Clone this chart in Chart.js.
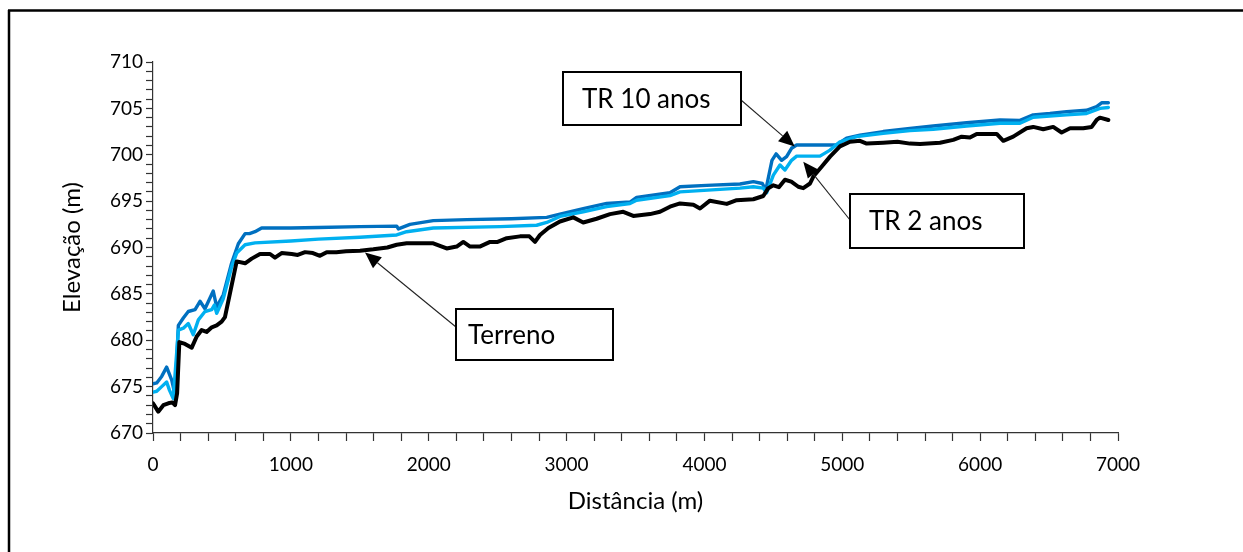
<!DOCTYPE html>
<html>
<head>
<meta charset="utf-8">
<script src="https://cdn.jsdelivr.net/npm/chart.js@4.4.0/dist/chart.umd.min.js"></script>
<style>
  html, body { margin: 0; padding: 0; background: #ffffff; }
  #wrap { width: 1243px; height: 552px; position: relative; }
  canvas { display: block; }
</style>
</head>
<body>
<div id="wrap"><canvas id="c" width="1243" height="552"></canvas></div>
<script>
// ---- Data ----
const terrenoDist = [
  0, 38, 75, 111, 140, 160, 175, 191, 232, 281,
  317, 353, 389, 426, 462, 498, 522, 559, 607, 668,
  716, 776, 849, 885, 933, 1006, 1050, 1103, 1160, 1211,
  1260, 1330, 1400, 1502, 1598, 1700, 1768, 1840, 1950, 2033,
  2130, 2203, 2251, 2300, 2370, 2445, 2500, 2566, 2662, 2730,
  2771, 2807, 2868, 2952, 3049, 3121, 3218, 3315, 3411, 3484,
  3605, 3678, 3750, 3823, 3920, 3968, 4040, 4162, 4234, 4355,
  4427, 4463, 4500, 4540, 4584, 4630, 4681, 4717, 4766, 4790,
  4850, 4911, 4983, 5056, 5128, 5177, 5297, 5400, 5491, 5564,
  5709, 5805, 5866, 5926, 5975, 6120, 6168, 6240, 6337, 6385,
  6458, 6530, 6591, 6652, 6748, 6809, 6845, 6869, 6930
];
const terrenoElev = [
  673.2, 672.3, 673.0, 673.2, 673.3, 673.0, 674.3, 679.8, 679.6, 679.2,
  680.4, 681.1, 680.9, 681.4, 681.6, 682.0, 682.5, 685.1, 688.5, 688.3,
  688.8, 689.3, 689.3, 688.9, 689.4, 689.3, 689.2, 689.5, 689.4, 689.1,
  689.5, 689.5, 689.6, 689.65, 689.8, 690.0, 690.3, 690.45, 690.45, 690.45,
  689.9, 690.1, 690.6, 690.1, 690.1, 690.6, 690.6, 691.0, 691.2, 691.2,
  690.6, 691.35, 692.1, 692.8, 693.25, 692.7, 693.1, 693.6, 693.85, 693.4,
  693.6, 693.85, 694.4, 694.75, 694.6, 694.2, 695.05, 694.7, 695.1, 695.2,
  695.55, 696.4, 696.7, 696.5, 697.3, 697.1, 696.55, 696.4, 696.9, 697.65,
  698.7, 699.8, 700.9, 701.4, 701.5, 701.2, 701.3, 701.4, 701.2, 701.15,
  701.3, 701.6, 701.95, 701.85, 702.25, 702.25, 701.5, 701.95, 702.85, 703.0,
  702.75, 703.0, 702.4, 702.85, 702.85, 703.0, 703.75, 704.0, 703.75
];

const tr10Dist = [
  0, 27, 63, 99, 136, 160, 184, 220, 256, 305,
  341, 377, 437, 462, 510, 570, 619, 668, 700, 740,
  788, 1000, 1200, 1500, 1768, 1780, 1864, 2033, 2275, 2600,
  2856, 2952, 3121, 3291, 3460, 3508, 3750, 3823, 4016, 4258,
  4355, 4420, 4445, 4490, 4520, 4560, 4596, 4632, 4669, 4814,
  4959, 5031, 5128, 5297, 5491, 5660, 5902, 6144, 6289, 6385,
  6506, 6627, 6772, 6845, 6881, 6930
];
const tr10Elev = [
  675.3, 675.4, 676.1, 677.1, 675.7, 674.1, 681.6, 682.4, 683.1, 683.3,
  684.2, 683.4, 685.3, 683.6, 684.9, 688.3, 690.4, 691.5, 691.5, 691.7,
  692.1, 692.1, 692.15, 692.25, 692.3, 692.0, 692.5, 692.9, 693.0, 693.1,
  693.25, 693.6, 694.2, 694.75, 694.9, 695.4, 695.9, 696.55, 696.7, 696.85,
  697.1, 696.9, 696.2, 699.4, 700.1, 699.4, 699.8, 700.7, 701.05, 701.05,
  701.05, 701.8, 702.1, 702.5, 702.85, 703.1, 703.45, 703.75, 703.7, 704.3,
  704.45, 704.65, 704.8, 705.2, 705.6, 705.6
];

const tr2Dist = [
  0, 27, 63, 99, 120, 147, 184, 220, 256, 292,
  329, 377, 426, 445, 462, 510, 570, 607, 668, 740,
  1000, 1200, 1500, 1768, 1840, 2033, 2517, 2783, 2856, 2952,
  3121, 3291, 3460, 3508, 3750, 3823, 4258, 4355, 4427, 4451,
  4500, 4548, 4584, 4632, 4669, 4838, 4911, 4983, 5104, 5297,
  5491, 5660, 5902, 6144, 6289, 6385, 6627, 6772, 6869, 6930
];
const tr2Elev = [
  674.4, 674.5, 675.0, 675.5, 674.6, 673.7, 681.1, 681.3, 681.8, 680.6,
  682.2, 683.1, 683.3, 683.8, 682.9, 684.5, 687.9, 689.4, 690.3, 690.5,
  690.7, 690.9, 691.1, 691.35, 691.7, 692.1, 692.25, 692.4, 692.7, 693.35,
  693.85, 694.4, 694.75, 695.1, 695.6, 696.0, 696.4, 696.55, 696.4, 695.9,
  697.8, 698.9, 698.35, 699.4, 699.85, 699.85, 700.5, 701.4, 701.95, 702.3,
  702.6, 702.75, 703.1, 703.4, 703.4, 704.05, 704.3, 704.45, 705.0, 705.1
];

const seriesNames = ['Terreno', 'TR 2 anos', 'TR 10 anos'];
const xTitle = 'Distância (m)';
const yTitle = 'Elevação (m)';
const xMin = 0, xMax = 7000, xMinorStep = 200, xMajorStep = 1000;
const yMin = 670, yMax = 710, yMinorStep = 1, yMajorStep = 5;

// Callouts: label and the data point each arrow points to
const calloutLabels = ['TR 10 anos', 'TR 2 anos', 'Terreno'];
const calloutTargetX = [4655, 4717, 1538];
const calloutTargetY = [700.9, 699.25, 689.45];

function zip(xs, ys) { return xs.map((x, i) => ({ x: x, y: ys[i] })); }

const FONT = 'Lato, "Open Sans", "Liberation Sans", sans-serif';

// Box layout (pixels) for callouts, and where each leader line leaves the box
const calloutBoxes = [
  { x: 563, y: 72, w: 178, h: 53, tx: 582, ax: 741, ay: 100 },
  { x: 850, y: 194, w: 174, h: 54, tx: 869, ax: 850, ay: 220 },
  { x: 456, y: 309, w: 157, h: 51, tx: 468, ax: 456, ay: 327 }
];

const decorPlugin = {
  id: 'decor',
  afterDraw(chart) {
    const ctx = chart.ctx;
    const xs = chart.scales.x, ys = chart.scales.y;
    ctx.save();
    // outer frame (top and left edges visible)
    ctx.strokeStyle = '#000';
    ctx.lineWidth = 2.5;
    ctx.beginPath();
    ctx.moveTo(8, 10.5); ctx.lineTo(1243, 10.5);
    ctx.moveTo(9, 10); ctx.lineTo(9, 552);
    ctx.stroke();

    calloutBoxes.forEach((b, i) => {
      const tx = xs.getPixelForValue(calloutTargetX[i]);
      const ty = ys.getPixelForValue(calloutTargetY[i]);
      // leader line
      const ang = Math.atan2(ty - b.ay, tx - b.ax);
      const headLen = 16, headW = 7;
      const bx = tx - headLen * Math.cos(ang), by = ty - headLen * Math.sin(ang);
      ctx.strokeStyle = '#222';
      ctx.lineWidth = 1.1;
      ctx.beginPath();
      ctx.moveTo(b.ax, b.ay); ctx.lineTo(bx, by);
      ctx.stroke();
      ctx.fillStyle = '#000';
      ctx.beginPath();
      ctx.moveTo(tx, ty);
      ctx.lineTo(bx + headW * Math.sin(ang), by - headW * Math.cos(ang));
      ctx.lineTo(bx - headW * Math.sin(ang), by + headW * Math.cos(ang));
      ctx.closePath();
      ctx.fill();
      // box
      ctx.fillStyle = '#fff';
      ctx.fillRect(b.x, b.y, b.w, b.h);
      ctx.lineWidth = 2;
      ctx.strokeStyle = '#000';
      ctx.strokeRect(b.x, b.y, b.w, b.h);
      // text
      ctx.fillStyle = '#000';
      ctx.font = '26px ' + FONT;
      ctx.textBaseline = 'middle';
      ctx.textAlign = 'left';
      ctx.fillText(calloutLabels[i], b.tx, b.y + b.h / 2 + 1);
    });
    ctx.restore();
  }
};

function build() {
  new Chart(document.getElementById('c'), {
    type: 'line',
    data: {
      datasets: [
        { label: seriesNames[0], data: zip(terrenoDist, terrenoElev), borderColor: '#000000', borderWidth: 4, order: 0 },
        { label: seriesNames[1], data: zip(tr2Dist, tr2Elev), borderColor: '#00B0F0', borderWidth: 3.4, order: 1 },
        { label: seriesNames[2], data: zip(tr10Dist, tr10Elev), borderColor: '#0070C0', borderWidth: 3.4, order: 2 }
      ]
    },
    options: {
      responsive: false,
      animation: false,
      events: [],
      layout: { padding: { top: 62, right: 125, left: 0, bottom: 0 } },
      elements: { point: { radius: 0 }, line: { tension: 0, borderJoinStyle: 'round', borderCapStyle: 'round' } },
      plugins: { legend: { display: false }, tooltip: { enabled: false } },
      scales: {
        x: {
          type: 'linear', min: xMin, max: xMax,
          afterFit(s) { s.height = 119; },
          border: { display: true, color: '#333', width: 1.2 },
          grid: { drawOnChartArea: false, drawTicks: true, tickLength: 8, tickColor: '#333', tickWidth: 1.2 },
          ticks: {
            stepSize: xMinorStep, autoSkip: false, maxRotation: 0, padding: 12,
            color: '#000', font: { family: FONT, size: 19 },
            callback: (v) => (v % xMajorStep === 0 ? String(v) : '')
          },
          title: { display: true, text: xTitle, color: '#000', font: { family: FONT, size: 24 }, padding: { top: 0, bottom: 36 } }
        },
        y: {
          type: 'linear', min: yMin, max: yMax,
          afterFit(s) { s.width = 153; },
          border: { display: true, color: '#333', width: 1.2 },
          grid: { drawOnChartArea: false, drawTicks: true, tickLength: 7, tickColor: '#333', tickWidth: 1.2 },
          ticks: {
            stepSize: yMinorStep, autoSkip: false, padding: 3,
            color: '#000', font: { family: FONT, size: 19 },
            callback: (v) => (v % yMajorStep === 0 ? String(v) : '')
          },
          title: { display: true, text: yTitle, color: '#000', font: { family: FONT, size: 24 }, padding: { top: 58, bottom: 0 } }
        }
      }
    },
    plugins: [decorPlugin]
  });
}

if (document.fonts && document.fonts.load) {
  Promise.all([document.fonts.load('19px Lato'), document.fonts.load('26px Lato')]).then(build, build);
} else { build(); }
</script>
</body>
</html>
